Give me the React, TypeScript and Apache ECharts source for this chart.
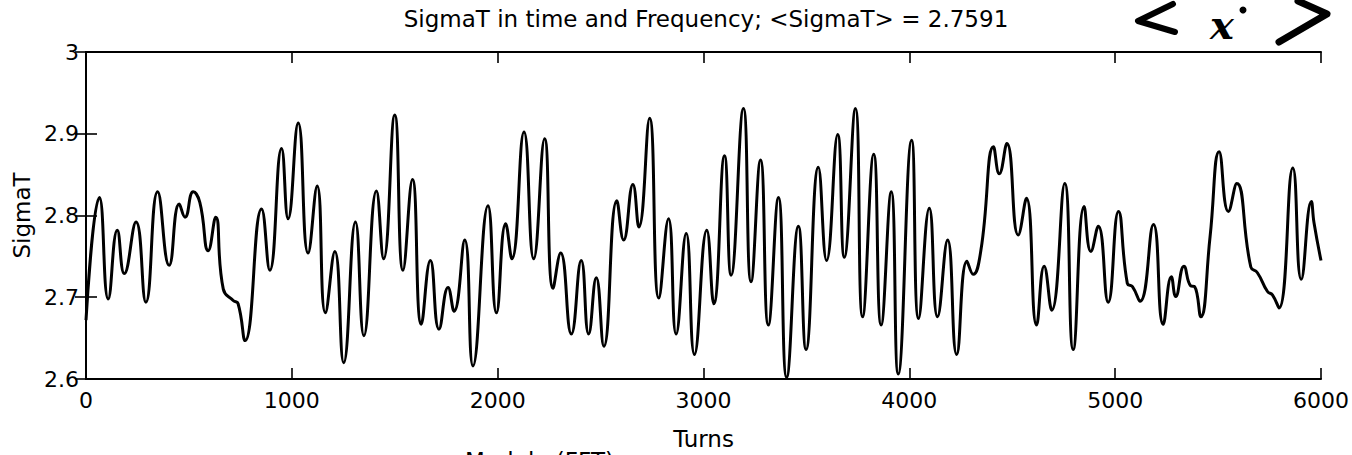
import React, { useEffect, useRef } from "react";
import * as echarts from "echarts";

const turns = [
  0, 65, 108, 152, 186, 243, 291, 348, 404, 453, 481, 521, 553, 594, 630, 667, 715, 739, 773, 853,
  893, 950, 982, 1031, 1079, 1123, 1163, 1209, 1252, 1309, 1350, 1411, 1446, 1500, 1540, 1586, 1629,
  1673, 1715, 1759, 1788, 1840, 1880, 1953, 1994, 2039, 2069, 2128, 2175, 2228, 2269, 2306, 2358,
  2406, 2442, 2479, 2516, 2579, 2612, 2657, 2686, 2738, 2783, 2830, 2867, 2916, 2956, 3016, 3050,
  3102, 3134, 3194, 3231, 3277, 3315, 3364, 3404, 3461, 3498, 3558, 3598, 3652, 3684, 3738, 3773,
  3827, 3863, 3912, 3946, 4011, 4045, 4097, 4137, 4186, 4230, 4280, 4310, 4348, 4409, 4437, 4474,
  4529, 4569, 4618, 4655, 4692, 4755, 4796, 4849, 4882, 4918, 4966, 5016, 5059, 5084, 5121, 5186,
  5233, 5273, 5294, 5334, 5367, 5386, 5416, 5461, 5505, 5550, 5591, 5659, 5691, 5740, 5764, 5796,
  5863, 5904, 5953, 5966, 6000,
];

const sigmaT = [
  2.672, 2.822, 2.698, 2.782, 2.729, 2.792, 2.694, 2.829, 2.739, 2.814, 2.798, 2.829, 2.816, 2.757,
  2.798, 2.71, 2.696, 2.692, 2.647, 2.808, 2.733, 2.882, 2.796, 2.913, 2.754, 2.836, 2.681, 2.756,
  2.62, 2.792, 2.653, 2.83, 2.747, 2.923, 2.733, 2.844, 2.667, 2.745, 2.661, 2.712, 2.683, 2.77,
  2.616, 2.812, 2.681, 2.79, 2.747, 2.902, 2.747, 2.894, 2.711, 2.754, 2.655, 2.745, 2.655, 2.724,
  2.64, 2.818, 2.77, 2.838, 2.786, 2.919, 2.699, 2.796, 2.655, 2.778, 2.63, 2.782, 2.692, 2.873,
  2.727, 2.931, 2.719, 2.868, 2.666, 2.822, 2.602, 2.787, 2.636, 2.859, 2.745, 2.899, 2.749, 2.931,
  2.676, 2.875, 2.666, 2.829, 2.606, 2.892, 2.674, 2.809, 2.676, 2.77, 2.63, 2.744, 2.728, 2.758,
  2.884, 2.851, 2.888, 2.776, 2.821, 2.666, 2.738, 2.684, 2.839, 2.636, 2.811, 2.756, 2.787, 2.694,
  2.805, 2.717, 2.713, 2.695, 2.789, 2.667, 2.725, 2.701, 2.738, 2.714, 2.713, 2.676, 2.774, 2.878,
  2.805, 2.839, 2.737, 2.73, 2.707, 2.703, 2.687, 2.858, 2.722, 2.817, 2.791, 2.745,
];

const xTicks = [0, 1000, 2000, 3000, 4000, 5000, 6000];
const yTicks = [2.6, 2.7, 2.8, 2.9, 3];

const titleText = "SigmaT in time and Frequency; <SigmaT> = 2.7591";
const xName = "Turns";
const yName = "SigmaT";
const cutText = "Modulo (FFT)";

const FONT = "DejaVu Sans, Liberation Sans, Arial, sans-serif";

export default function App() {
  const ref = useRef<HTMLDivElement>(null);
  useEffect(() => {
    if (!ref.current) return;
    const chart = echarts.init(ref.current, undefined, { renderer: "svg" });
    const data = turns.map((t, i) => [t, sigmaT[i]]);
    const axisLine = { show: true, lineStyle: { color: "#000", width: 2 } };
    const tick = { show: true, inside: true, length: 11, lineStyle: { color: "#000", width: 1.6 } };
    chart.setOption({
      animation: false,
      backgroundColor: "#fff",
      grid: { left: 86, right: 30, top: 52, bottom: 72, containLabel: false },
      xAxis: [
        {
          type: "value",
          min: xTicks[0],
          max: xTicks[xTicks.length - 1],
          interval: 1000,
          position: "bottom",
          axisLine,
          axisTick: tick,
          splitLine: { show: false },
          axisLabel: {
            color: "#000",
            fontSize: 22,
            fontFamily: FONT,
            margin: 10,
            formatter: (v: number) => String(v),
          },
          name: xName,
          nameLocation: "middle",
          nameGap: 48,
          nameTextStyle: { color: "#000", fontSize: 23, fontFamily: FONT },
        },
        {
          type: "value",
          min: xTicks[0],
          max: xTicks[xTicks.length - 1],
          interval: 1000,
          position: "top",
          axisLine,
          axisTick: tick,
          axisLabel: { show: false },
          splitLine: { show: false },
        },
      ],
      yAxis: [
        {
          type: "value",
          min: yTicks[0],
          max: yTicks[yTicks.length - 1],
          interval: 0.1,
          position: "left",
          axisLine,
          axisTick: tick,
          splitLine: { show: false },
          axisLabel: {
            color: "#000",
            fontSize: 22,
            fontFamily: FONT,
            margin: 7,
            formatter: (v: number) => String(Math.round(v * 10) / 10),
          },
          name: yName,
          nameLocation: "middle",
          nameGap: 45,
          nameRotate: 90,
          nameTextStyle: { color: "#000", fontSize: 23, fontFamily: FONT },
        },
        {
          type: "value",
          min: yTicks[0],
          max: yTicks[yTicks.length - 1],
          interval: 0.1,
          position: "right",
          axisLine,
          axisTick: tick,
          axisLabel: { show: false },
          splitLine: { show: false },
        },
      ],
      series: [
        {
          type: "line",
          data,
          xAxisIndex: 0,
          yAxisIndex: 0,
          showSymbol: false,
          smooth: 0.5,
          lineStyle: { color: "#000", width: 3 },
        },
      ],
      graphic: [
        {
          type: "text",
          x: 706,
          y: 19,
          style: {
            text: titleText,
            fill: "#000",
            fontSize: 23,
            fontFamily: FONT,
            textAlign: "center",
            textVerticalAlign: "middle",
          },
        },
        {
          type: "text",
          x: 465,
          y: 449,
          style: {
            text: cutText,
            fill: "#000",
            fontSize: 23,
            fontFamily: FONT,
            textAlign: "left",
            textVerticalAlign: "top",
          },
        },
        {
          type: "polyline",
          shape: { points: [[1173, 4], [1138, 21], [1175, 32]] },
          style: { stroke: "#000", lineWidth: 6, fill: "none", lineCap: "round", lineJoin: "round" },
        },
        {
          type: "text",
          x: 1222,
          y: 24,
          style: {
            text: "x",
            fill: "#000",
            fontSize: 40,
            fontWeight: "bold",
            fontStyle: "italic",
            fontFamily: "DejaVu Serif, serif",
            textAlign: "center",
            textVerticalAlign: "middle",
          },
        },
        {
          type: "circle",
          shape: { cx: 1243, cy: 10, r: 3.5 },
          style: { fill: "#000" },
        },
        {
          type: "polyline",
          shape: { points: [[1298, 1], [1327, 14], [1279, 42]] },
          style: { stroke: "#000", lineWidth: 7, fill: "none", lineCap: "round", lineJoin: "round" },
        },
      ],
    });
    return () => chart.dispose();
  }, []);
  return (
    <div
      ref={ref}
      style={{ position: "absolute", left: 0, top: 0, width: 1352, height: 455 }}
    />
  );
}
